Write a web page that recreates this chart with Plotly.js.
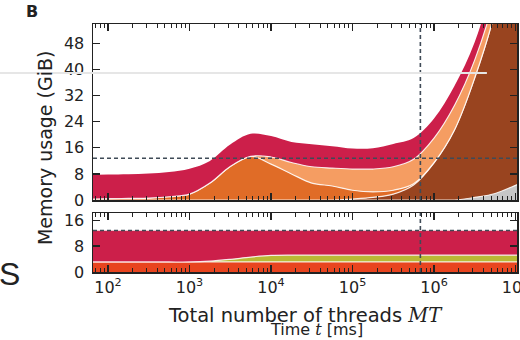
<!DOCTYPE html>
<html><head><meta charset="utf-8">
<script src="https://cdn.plot.ly/plotly-3.0.1.min.js"></script>
<style>html,body{margin:0;padding:0;background:#fff}#chart{width:520px;height:340px}</style>
</head><body><div id="chart"></div>
<script>
// ---- data ----
const threads    = [63,100,178,316,562,1000,1780,3160,5620,10000,17800,31600,56200,100000,178000,316000,562000,1000000,1780000,3160000,5620000,10000000,11200000];
const topGrey    = [0,0,0,0,0,0,0,0,0,0,0,0,0,0,0,0,0,0,0,0.8,2,4.5,5];
const topBrown   = [0,0,0,0,0,0,0,0,0,0,0,0,0,0.3,0.8,1.8,4.6,11.4,21.5,36.7,56,85.5,90];
const topOrange  = [0.3,0.4,0.5,0.6,1.0,1.8,5.2,10.3,13.4,11,8,5.2,4.3,2.7,1.7,1.2,0.4,0.1,0,0,0,0,0];
const topLight   = [0,0,0,0,0,0,0,0,0,2.2,3.5,5,5.5,6.5,7,7.2,7.5,7.5,7.5,5.5,5,5,5];
const topCrimson = [7.4,7.4,7.4,7.5,7.6,7.8,6.8,6.7,6.9,6.4,6.3,6.9,6.7,6.3,6.4,7,6.5,6,6,5.5,7,10,10];
const botRed     = [3.1,3.1,3.1,3.1,3.1,3.1,3.1,3.1,3.1,3.1,3.1,3.1,3.1,3.1,3.1,3.1,3.1,3.1,3.1,3.1,3.1,3.1,3.1];
const botOlive   = [0,0,0,0,0,0,0.25,0.8,1.5,2.0,2.1,2.1,2.1,2.1,2.1,2.1,2.1,2.1,2.1,2.1,2.1,2.1,2.1];
const botCrimson = [9.6,9.6,9.6,9.6,9.6,9.6,9.35,8.8,8.1,7.6,7.5,7.5,7.5,7.5,7.5,7.5,7.5,7.5,7.5,7.5,7.5,7.5,7.5];
const memoryLimit = 12.8;
const threadLimit = 680000;
const xTickVals   = [100,1000,10000,100000,1000000,10000000];
const xTickText   = ['10<sup>2</sup>','10<sup>3</sup>','10<sup>4</sup>','10<sup>5</sup>','10<sup>6</sup>','10<sup>7</sup>'];
const yTicksTop   = [0,8,16,24,32,40,48];
const yTicksBot   = [0,8,16];

// ---- styling ----
const minorTicks = [];
for (let e = 1; e <= 6; e++) for (let m = 2; m <= 9; m++) minorTicks.push(m * Math.pow(10, e));

const sep = {color:'rgba(255,255,255,0.85)', width:1.2, shape:'spline', smoothing:1};
const none = {width:0, shape:'spline', smoothing:1};
function layer(y, color, line, xa, ya, group) {
  return {x: threads, y: y, xaxis: xa, yaxis: ya, type:'scatter', mode:'lines',
          stackgroup: group, fillcolor: color, line: Object.assign({}, line), hoverinfo:'skip'};
}
const data = [
  layer(topGrey,    '#c6c6c6', sep, 'x', 'y', 'top'),
  layer(topBrown,   '#99441f', sep, 'x', 'y', 'top'),
  layer(topOrange,  '#e06c27', sep, 'x', 'y', 'top'),
  layer(topLight,   '#f59d62', sep, 'x', 'y', 'top'),
  layer(topCrimson, '#cc1f4a', none,'x', 'y', 'top'),
  layer(botRed,     '#e8441f', sep, 'x2','y2','bot'),
  layer(botOlive,   '#b9b935', sep, 'x2','y2','bot'),
  layer(botCrimson, '#cc1f4a', none,'x2','y2','bot')
];

const xRange = [1.816, 7.018];
const axisLine = {showline:true, linecolor:'#222', linewidth:1.5, mirror:'allticks',
  ticks:'inside', ticklen:7, tickwidth:1.2, tickcolor:'#222', showgrid:false, zeroline:false};
const xBase = Object.assign({}, axisLine, {type:'log', range:xRange, tickmode:'array',
  tickvals:xTickVals, ticktext:xTickText, ticklabeloverflow:'allow',
  minor:{tickmode:'array', tickvals:minorTicks, ticks:'inside', ticklen:4, tickwidth:1, tickcolor:'#222', showgrid:false}});
const dashLine = {color:'#3f4b57', width:1.6, dash:'4px,3px'};

const layout = {
  width:520, height:340,
  margin:{l:93, r:3, t:24, b:68},
  paper_bgcolor:'#fff', plot_bgcolor:'#fff',
  showlegend:false,
  font:{family:'DejaVu Sans', size:16, color:'#222'},
  xaxis: Object.assign({}, xBase, {anchor:'y', showticklabels:false}),
  yaxis: Object.assign({}, axisLine, {domain:[0.2903,1], range:[0,54], tickmode:'array', tickvals:yTicksTop, ticklabelstandoff:4}),
  xaxis2: Object.assign({}, xBase, {anchor:'y2', matches:'x'}),
  yaxis2: Object.assign({}, axisLine, {domain:[0,0.2379], range:[0,18.2], tickmode:'array', tickvals:yTicksBot, ticklabelstandoff:4}),
  shapes:[
    {type:'line', xref:'x domain', yref:'y', x0:0, x1:1, y0:memoryLimit, y1:memoryLimit, line:dashLine},
    {type:'line', xref:'x', yref:'y domain', x0:threadLimit, x1:threadLimit, y0:0, y1:1, line:dashLine},
    {type:'line', xref:'x2 domain', yref:'y2', x0:0, x1:1, y0:memoryLimit, y1:memoryLimit, line:dashLine},
    {type:'line', xref:'x2', yref:'y2 domain', x0:threadLimit, x1:threadLimit, y0:0, y1:1, line:dashLine},
    {type:'line', xref:'paper', yref:'paper', x0:-0.2193, x1:0.929, y0:0.8024, y1:0.8024, line:{color:'#e6e6e6', width:2}, layer:'above'}
  ],
  annotations:[
    {text:'Memory usage (GiB)', xref:'paper', yref:'paper', x:-0.113, y:0.5, textangle:-90,
     showarrow:false, xanchor:'center', yanchor:'middle', font:{size:19}},
    {text:'Time <span style="font-family:\'DejaVu Serif\'"><i>t</i></span> [ms]', xref:'paper', yref:'paper', x:0.526, y:-0.232,
     showarrow:false, xanchor:'center', yanchor:'middle', font:{size:16}},
    {text:'Total number of threads <span style="font-family:\'DejaVu Serif\'"><i>MT</i></span>', xref:'paper', yref:'paper', x:0.5, y:-0.175,
     showarrow:false, xanchor:'center', yanchor:'middle', font:{size:19.5}},
    {text:'<b>B</b>', xref:'paper', yref:'paper', x:-0.1427, y:1.0524, showarrow:false,
     xanchor:'center', yanchor:'middle', font:{size:16}},
    {text:'S', xref:'paper', yref:'paper', x:-0.198, y:-0.008, showarrow:false,
     xanchor:'center', yanchor:'middle', font:{family:'Liberation Sans', size:32}}
  ]
};
Plotly.newPlot('chart', data, layout, {staticPlot:true, displayModeBar:false});
</script></body></html>
